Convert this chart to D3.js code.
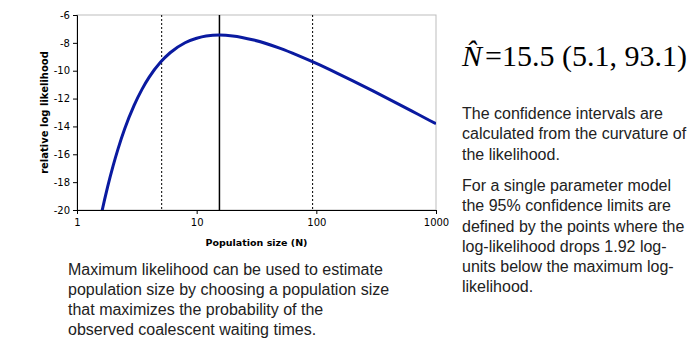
<html>
<head>
    <script src="https://d3js.org/d3.v7.min.js"></script>
    <style>
        body { margin: 0; background: white; }
        .tick text { font-family: "DejaVu Sans", Verdana, sans-serif; font-size: 10px; fill: #000; }
        .note { font-family: "Liberation Sans", Arial, sans-serif; font-size: 16px; fill: #222; }
    </style>
</head>
<body>
<script>
    // log-likelihood profile
    var popSize = [1.62, 1.7, 1.8, 2, 2.2, 2.5, 3, 3.5, 4, 5, 6, 8, 10, 12, 15.5, 20, 30, 50, 70, 100, 150, 200, 300, 500, 700, 1000];
    var logLik  = [-20.06, -19.26, -18.36, -16.85, -15.63, -14.19, -12.49, -11.32, -10.48, -9.38, -8.71, -7.99, -7.67, -7.51, -7.44, -7.50, -7.80, -8.40, -8.90, -9.48, -10.19, -10.71, -11.47, -12.45, -13.11, -13.81];
    var estimate = 15.5;
    var ciLimits = [5.1, 93.1];
    var xTicks = [1, 10, 100, 1000];
    var yTicks = [-20, -18, -16, -14, -12, -10, -8, -6];

    var notesRight = [
        ["The confidence intervals are", "calculated from the curvature of", "the likelihood."],
        ["For a single parameter model", "the 95% confidence limits are", "defined by the points where the",
         "log-likelihood drops 1.92 log-", "units below the maximum log-", "likelihood."]
    ];
    var notesBottom = ["Maximum likelihood can be used to estimate", "population size by choosing a population size",
        "that maximizes the probability of the", "observed coalescent waiting times."];

    var width = 699, height = 338;
    var pL = 77, pR = 436, pT = 15, pB = 210;

    var svg = d3.select("body").append("svg").attr("width", width).attr("height", height);

    var x = d3.scaleLog().domain([1, 1000]).range([pL, pR]);
    var y = d3.scaleLinear().domain([-20, -6]).range([pB, pT]);

    // grey frame (top / right)
    svg.append("rect").attr("x", pL).attr("y", pT)
        .attr("width", pR - pL).attr("height", pB - pT)
        .attr("fill", "none").attr("stroke", "#bdbdbd").attr("stroke-width", 1);

    svg.append("clipPath").attr("id", "plot")
        .append("rect").attr("x", pL).attr("y", pT).attr("width", pR - pL).attr("height", pB - pT);

    // confidence limits + estimate
    svg.selectAll(".ci").data(ciLimits).enter().append("line")
        .attr("x1", function(d) { return x(d); }).attr("x2", function(d) { return x(d); })
        .attr("y1", pT).attr("y2", pB)
        .attr("stroke", "#000").attr("stroke-width", 1).attr("stroke-dasharray", "2,2");
    svg.append("line")
        .attr("x1", x(estimate)).attr("x2", x(estimate)).attr("y1", pT).attr("y2", pB)
        .attr("stroke", "#000").attr("stroke-width", 1.5);

    var line = d3.line()
        .x(function(d, i) { return x(popSize[i]); })
        .y(function(d) { return y(d); })
        .curve(d3.curveMonotoneX);
    svg.append("path").datum(logLik)
        .attr("clip-path", "url(#plot)")
        .attr("d", line)
        .attr("fill", "none").attr("stroke", "#0a1aa0").attr("stroke-width", 3);

    // axes
    var yAxis = svg.append("g").attr("transform", "translate(" + pL + ",0)")
        .call(d3.axisLeft(y).tickValues(yTicks).tickSize(4).tickPadding(3).tickFormat(d3.format("d")));
    var xAxis = svg.append("g").attr("transform", "translate(0," + pB + ")")
        .call(d3.axisBottom(x).tickValues(xTicks).tickSize(4).tickPadding(5).tickFormat(d3.format("d")));
    svg.selectAll(".domain").attr("stroke", "#000");
    svg.selectAll(".tick line").attr("stroke", "#000");
    yAxis.selectAll("text").text(function(d) { return String(d); });

    svg.append("text")
        .attr("transform", "translate(48," + ((pT + pB) / 2) + ") rotate(-90)")
        .attr("text-anchor", "middle")
        .style("font-family", "'DejaVu Sans', Verdana, sans-serif").style("font-size", "10px").style("font-weight", "bold")
        .text("relative log likelihood");
    svg.append("text")
        .attr("x", (pL + pR) / 2).attr("y", 246)
        .attr("text-anchor", "middle")
        .style("font-family", "'DejaVu Sans', Verdana, sans-serif").style("font-size", "9.5px").style("font-weight", "bold")
        .text("Population size (N)");

    // estimate formula (N with combining hat)
    var f = svg.append("text").attr("x", 462).attr("y", 66)
        .style("font-family", "'Liberation Serif', 'Times New Roman', serif").style("font-size", "30px").style("fill", "#000");
    f.append("tspan").style("font-style", "italic").text("N\u0302");
    f.append("tspan").attr("dx", 3).text("=" + estimate + " (" + ciLimits[0] + ", " + ciLimits[1] + ")");

    // notes
    var yy = 119;
    notesRight.forEach(function(para, p) {
        if (p > 0) yy += 11;
        para.forEach(function(s) {
            svg.append("text").attr("class", "note").attr("x", 462).attr("y", yy).text(s);
            yy += 20.3;
        });
    });
    svg.selectAll(".bnote").data(notesBottom).enter().append("text")
        .attr("class", "note").attr("x", 68).attr("y", function(d, i) { return 275 + i * 20; })
        .text(function(d) { return d; });
</script>
</body>
</html>
